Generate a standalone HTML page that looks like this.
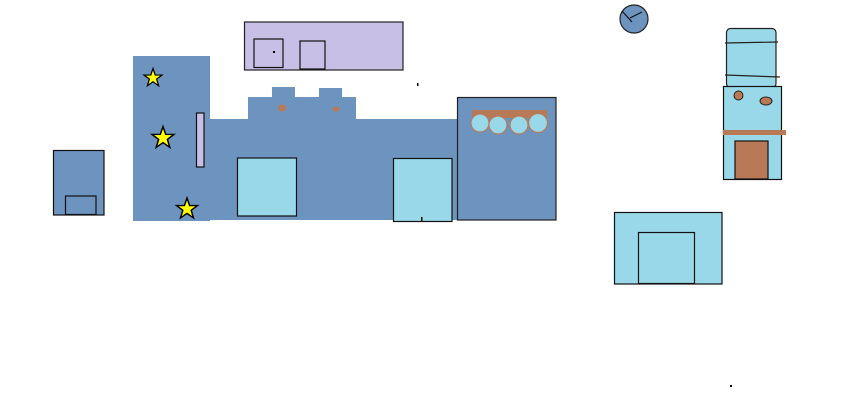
<!DOCTYPE html>
<html><head><style>html,body{margin:0;padding:0;background:#fff;}svg{display:block}</style></head>
<body>
<svg width="860" height="419" viewBox="0 0 860 419" xmlns="http://www.w3.org/2000/svg">
<defs>
<polygon id="st" points="0,-10 2.35,-3.2 9.5,-3.1 3.8,1.2 5.9,8.1 0,4 -5.9,8.1 -3.8,1.2 -9.5,-3.1 -2.35,-3.2" fill="#ffff00" stroke="#000" stroke-width="1.3"/>
</defs>
<!-- lavender box -->
<rect x="244.5" y="22" width="158.5" height="48" fill="#c7bfe6" stroke="#222" stroke-width="1.2"/>
<rect x="254" y="39" width="29" height="28.5" fill="#c7bfe6" stroke="#111" stroke-width="1.2"/>
<rect x="300" y="41" width="25" height="28" fill="#c7bfe6" stroke="#111" stroke-width="1.2"/>
<rect x="273" y="51" width="2" height="2" fill="#000"/>
<rect x="417" y="83" width="1.5" height="3" fill="#000"/>
<!-- tall panel -->
<rect x="133" y="56" width="77" height="165" fill="#6d93bf"/>
<rect x="209" y="119" width="248" height="101" fill="#6d93bf"/>
<rect x="248" y="97" width="108" height="23" fill="#6d93bf"/>
<rect x="272" y="87" width="23" height="11" fill="#6d93bf"/>
<rect x="319" y="88" width="23" height="10" fill="#6d93bf"/>
<ellipse cx="282" cy="108" rx="4" ry="3.5" fill="#b87a56"/>
<ellipse cx="336" cy="109" rx="3.5" ry="2.5" fill="#b87a56"/>
<rect x="196.5" y="113" width="7.5" height="54" fill="#c7bfe6" stroke="#111" stroke-width="1.2"/>
<use href="#st" x="153" y="78" transform="translate(153,78) scale(0.95) translate(-153,-78)"/>
<use href="#st" x="163" y="138" transform="translate(163,138) scale(1.15) translate(-163,-138)"/>
<use href="#st" x="187" y="209" transform="translate(187,209) scale(1.1) translate(-187,-209)"/>
<rect x="237.5" y="158" width="59" height="58" fill="#99d8e8" stroke="#111" stroke-width="1.2"/>
<rect x="393.5" y="158.5" width="58.5" height="63" fill="#99d8e8" stroke="#111" stroke-width="1.2"/>
<rect x="421" y="217" width="1.5" height="4" fill="#000"/>
<!-- right box -->
<rect x="457.5" y="97.5" width="98.5" height="122.5" fill="#6d93bf" stroke="#222" stroke-width="1.2"/>
<rect x="472" y="110" width="75" height="8" fill="#b87a56"/>
<g fill="#99d8e8" stroke="#b87a56" stroke-width="1.2">
<circle cx="480" cy="123" r="9"/><circle cx="498" cy="125" r="9"/><circle cx="519" cy="125" r="9"/><circle cx="538" cy="123" r="9.5"/>
</g>
<!-- left small -->
<rect x="53.5" y="150.5" width="50.5" height="64.5" fill="#6d93bf" stroke="#111" stroke-width="1.2"/>
<rect x="65.5" y="196" width="30.5" height="18.5" fill="#6d93bf" stroke="#111" stroke-width="1.2"/>
<!-- bottom box -->
<rect x="614.5" y="212.5" width="107.5" height="71.5" fill="#99d8e8" stroke="#111" stroke-width="1.2"/>
<rect x="638.5" y="232.5" width="56" height="51" fill="#99d8e8" stroke="#111" stroke-width="1.2"/>
<rect x="730" y="385" width="2" height="2" fill="#000"/>
<!-- clock -->
<circle cx="634" cy="19" r="14" fill="#6d93bf" stroke="#222" stroke-width="1.2"/>
<path d="M622 11 L632 22 M630 18 L642 12" stroke="#111" stroke-width="1.2" fill="none"/>
<!-- water cooler -->
<rect x="726.5" y="28.5" width="49.5" height="59" rx="4" fill="#99d8e8" stroke="#222" stroke-width="1.2"/>
<path d="M725 43 L778 42 M725 75 L780 77" stroke="#222" stroke-width="1.2"/>
<rect x="723.5" y="86.5" width="58" height="93" fill="#99d8e8" stroke="#111" stroke-width="1.2"/>
<circle cx="738.5" cy="95.5" r="4.5" fill="#b87a56" stroke="#222" stroke-width="1"/>
<ellipse cx="766" cy="101" rx="6" ry="4" fill="#b87a56" stroke="#222" stroke-width="1"/>
<rect x="723" y="130" width="63" height="5" fill="#b87a56"/>
<rect x="735" y="141" width="33" height="38" fill="#b87a56" stroke="#111" stroke-width="1.2"/>
</svg>
</body></html>
